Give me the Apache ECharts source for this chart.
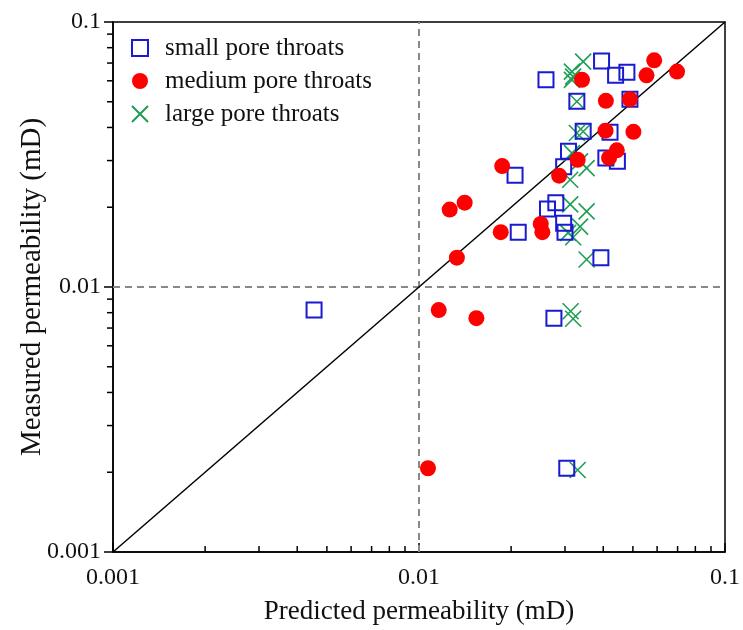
<!DOCTYPE html>
<html>
<head>
<meta charset="utf-8">
<script src="https://cdn.jsdelivr.net/npm/echarts@6/dist/echarts.min.js"></script>
<style>
  html, body { margin: 0; padding: 0; background: #fff; }
  #chart { width: 743px; height: 630px; }
</style>
</head>
<body>
<div id="chart"></div>
<script>
// [predicted, measured] in mD
const smallThroats = [
  [0.0395, 0.0713], [0.0260, 0.0605], [0.0439, 0.0630], [0.0478, 0.0646],
  [0.0328, 0.0502], [0.0489, 0.0511], [0.0344, 0.0387], [0.0421, 0.0384],
  [0.0308, 0.0325], [0.0408, 0.0307], [0.0445, 0.0298], [0.0297, 0.0284],
  [0.0206, 0.0264], [0.0263, 0.0197], [0.0280, 0.0208], [0.0297, 0.0174],
  [0.0300, 0.0161], [0.0211, 0.0161], [0.0393, 0.0129], [0.00454, 0.00818],
  [0.0276, 0.00763], [0.0304, 0.00207]
];
const mediumThroats = [
  [0.0587, 0.0717], [0.0554, 0.0629], [0.0697, 0.0650], [0.0341, 0.0605],
  [0.0408, 0.0504], [0.0489, 0.0511], [0.0407, 0.0389], [0.0502, 0.0385],
  [0.0443, 0.0328], [0.0418, 0.0307], [0.0330, 0.0302], [0.0287, 0.0263],
  [0.0187, 0.0286], [0.0126, 0.0196], [0.0141, 0.0208], [0.0185, 0.0161],
  [0.0250, 0.0173], [0.0253, 0.0161], [0.0133, 0.0129], [0.0116, 0.00818],
  [0.0154, 0.00763], [0.0107, 0.00207]
];
const largeThroats = [
  [0.0344, 0.0709], [0.0316, 0.0650], [0.0319, 0.0622], [0.0316, 0.0605],
  [0.0328, 0.0501], [0.0328, 0.0381], [0.0344, 0.0386], [0.0316, 0.0320],
  [0.0336, 0.0298], [0.0353, 0.0281], [0.0312, 0.0254], [0.0312, 0.0205],
  [0.0353, 0.0193], [0.0336, 0.0169], [0.0307, 0.0160], [0.0319, 0.0154],
  [0.0353, 0.0127], [0.0313, 0.00810], [0.0319, 0.00759], [0.0330, 0.00204]
];
const onetoone = [[0.001, 0.001], [0.1, 0.1]];
const vRef = [[0.01, 0.001], [0.01, 0.1]];
const hRef = [[0.001, 0.01], [0.1, 0.01]];
const axisMin = 0.001;
const axisMax = 0.1;
const minorTicks = [0.002, 0.003, 0.004, 0.005, 0.006, 0.007, 0.008, 0.009,
  0.02, 0.03, 0.04, 0.05, 0.06, 0.07, 0.08, 0.09];

const serif = '"Liberation Serif", "DejaVu Serif", serif';
const chart = echarts.init(document.getElementById('chart'));

function tickSeries (dir) {
  return {
    type: 'custom',
    silent: true,
    clip: false,
    z: 1,
    data: minorTicks.map(v => dir === 'x' ? [v, axisMin] : [axisMin, v]),
    renderItem: function (params, api) {
      const p = api.coord([api.value(0), api.value(1)]);
      const shape = dir === 'x'
        ? { x1: p[0], y1: p[1], x2: p[0], y2: p[1] - 6 }
        : { x1: p[0], y1: p[1], x2: p[0] - 6, y2: p[1] };
      return { type: 'line', shape: shape, style: { stroke: '#000', lineWidth: 1.5 } };
    }
  };
}

const option = {
  animation: false,
  backgroundColor: '#fff',
  grid: {
    left: 113, right: 18, top: 22, bottom: 77,
    show: true, borderColor: '#000', borderWidth: 1.5
  },
  legend: {
    orient: 'vertical',
    left: 126, top: 30,
    itemGap: 7,
    itemWidth: 16, itemHeight: 16,
    textStyle: { fontFamily: serif, fontSize: 25, lineHeight: 26, color: '#111', padding: [0, 0, 0, 12] },
    data: ['small pore throats', 'medium pore throats', 'large pore throats']
  },
  xAxis: {
    type: 'log', logBase: 10, min: axisMin, max: axisMax,
    name: 'Predicted permeability (mD)',
    nameLocation: 'middle', nameGap: 46, nameMoveOverlap: false,
    nameTextStyle: { fontFamily: serif, fontSize: 27, color: '#111' },
    axisLine: { lineStyle: { color: '#000', width: 1.5 } },
    axisTick: { inside: true, length: 9, lineStyle: { color: '#000', width: 1.5 } },
    axisLabel: { fontFamily: serif, fontSize: 24, color: '#111', margin: 14 },
    splitLine: { show: false }
  },
  yAxis: {
    type: 'log', logBase: 10, min: axisMin, max: axisMax,
    name: 'Measured permeability (mD)',
    nameLocation: 'middle', nameGap: 66, nameMoveOverlap: false,
    nameTextStyle: { fontFamily: serif, fontSize: 29, color: '#111' },
    axisLine: { lineStyle: { color: '#000', width: 1.5 } },
    axisTick: { length: 9, lineStyle: { color: '#000', width: 1.5 } },
    axisLabel: { fontFamily: serif, fontSize: 24, color: '#111', margin: 12 },
    splitLine: { show: false }
  },
  series: [
    {
      type: 'line', data: vRef, symbol: 'none', silent: true,
      lineStyle: { color: '#888', width: 2, type: [7, 5] }
    },
    {
      type: 'line', data: hRef, symbol: 'none', silent: true,
      lineStyle: { color: '#888', width: 2, type: [7, 5] }
    },
    {
      type: 'line', data: onetoone, symbol: 'none', silent: true,
      lineStyle: { color: '#000', width: 1.5 }
    },
    tickSeries('x'),
    tickSeries('y'),
    {
      name: 'large pore throats',
      type: 'scatter', data: largeThroats,
      symbol: 'path://M0,0L10,10M10,0L0,10', symbolSize: 16,
      itemStyle: { color: 'rgba(0,0,0,0)', borderColor: '#1f9e55', borderWidth: 1.6, opacity: 1 },
      z: 3
    },
    {
      name: 'small pore throats',
      type: 'scatter', data: smallThroats,
      symbol: 'rect', symbolSize: 15,
      itemStyle: { color: 'rgba(0,0,0,0)', borderColor: '#1a1ad0', borderWidth: 2, opacity: 1 },
      z: 4
    },
    {
      name: 'medium pore throats',
      type: 'scatter', data: mediumThroats,
      symbol: 'circle', symbolSize: 16,
      itemStyle: { color: '#ff0000', opacity: 1 },
      z: 5
    }
  ]
};

chart.setOption(option);
</script>
</body>
</html>
